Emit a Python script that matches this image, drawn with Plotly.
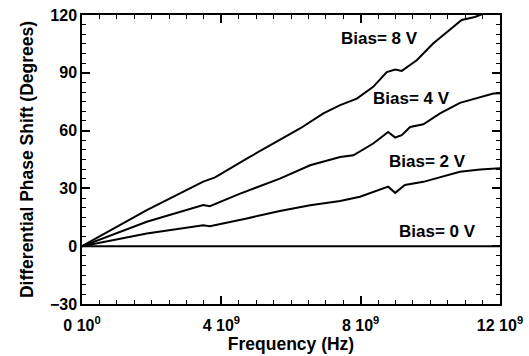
import plotly.graph_objects as go

# Frequencies in GHz, phase in degrees
freq_8 = [0, 1.86, 3.48, 3.82, 4.73, 5.68, 6.26, 6.93, 7.41, 7.89, 8.36, 8.75, 8.99, 9.18, 9.61, 10.08, 10.47, 10.90, 11.28, 11.57, 12.0]
phase_8 = [0, 18.7, 33.5, 35.7, 45.5, 55.0, 61.1, 68.9, 73.2, 76.6, 82.7, 90.4, 91.7, 91.0, 96.5, 105.2, 111.2, 117.4, 119.0, 121.0, 125.0]

freq_4 = [0, 1.86, 3.48, 3.67, 4.54, 5.68, 6.55, 7.41, 7.79, 8.36, 8.79, 8.99, 9.18, 9.42, 9.80, 10.28, 10.85, 11.43, 11.81, 12.0]
phase_4 = [0, 12.7, 21.4, 20.8, 27.3, 35.1, 42.0, 46.3, 47.2, 53.3, 59.3, 56.4, 57.6, 61.9, 63.3, 68.9, 74.4, 77.2, 79.2, 79.4]

freq_2 = [0, 1.86, 3.48, 3.67, 4.73, 5.68, 6.55, 7.41, 7.98, 8.79, 8.99, 9.27, 9.80, 10.47, 10.85, 11.43, 11.81, 12.0]
phase_2 = [0, 6.6, 10.9, 10.4, 14.4, 18.3, 21.3, 23.5, 25.7, 30.9, 27.7, 31.8, 33.4, 36.9, 38.6, 39.8, 40.3, 40.5]

freq_0 = [0, 12.0]
phase_0 = [0, 0]

series = [
    ("Bias= 8 V", freq_8, phase_8),
    ("Bias= 4 V", freq_4, phase_4),
    ("Bias= 2 V", freq_2, phase_2),
    ("Bias= 0 V", freq_0, phase_0),
]

# label positions (GHz, degrees)
label_x = [8.55, 9.45, 9.93, 10.21]
label_y = [107.7, 76.8, 44.1, 7.8]

x_tickvals = [0, 4000000000, 8000000000, 12000000000]
x_ticktext = ["0 10<sup>0</sup>", "4 10<sup>9</sup>", "8 10<sup>9</sup>", "12 10<sup>9</sup>"]

FONT = "Liberation Sans, Arial, Helvetica, sans-serif"

alias = {}
for v, t in zip(x_tickvals, x_ticktext):
    alias[str(v)] = t
    alias[f"{v:,}"] = t

fig = go.Figure()
for name, f, p in series:
    fig.add_trace(go.Scatter(
        x=[v * 1e9 for v in f], y=p, mode="lines", name=name,
        line=dict(color="black", width=2), showlegend=False,
    ))

for (name, _, _), lx, ly in zip(series, label_x, label_y):
    fig.add_annotation(
        x=lx * 1e9, y=ly, text=name, showarrow=False,
        font=dict(family=FONT, size=17, color="black", weight="bold"),
        xanchor="center", yanchor="middle",
    )

axis_common = dict(
    showgrid=False, zeroline=False, showline=True, linecolor="black",
    linewidth=1.5, mirror="allticks", ticks="inside", tickcolor="black",
    tickwidth=1.6, ticklen=8, automargin=False, ticklabeloverflow="allow",
    tickfont=dict(family=FONT, size=16, color="black", weight="bold"),
)

fig.update_xaxes(
    range=[0, 12e9], tickmode="linear", tick0=0, dtick=4e9,
    exponentformat="none",
    labelalias=alias,
    ticklabelstandoff=6,
    minor=dict(dtick=0.5e9, tick0=0, ticks="inside", ticklen=4,
               tickcolor="black", tickwidth=1.4, showgrid=False),
    title=dict(text="Frequency (Hz)", standoff=3,
               font=dict(family=FONT, size=17.5, color="black", weight="bold")),
    **axis_common,
)
fig.update_yaxes(
    range=[-30, 120], tickmode="linear", tick0=0, dtick=30,
    minor=dict(dtick=5, tick0=0, ticks="inside", ticklen=4,
               tickcolor="black", tickwidth=1.4, showgrid=False),
    title=dict(text="Differential Phase Shift (Degrees)", standoff=12,
               font=dict(family=FONT, size=17.5, color="black", weight="bold")),
    **axis_common,
)

fig.update_layout(
    width=529, height=356,
    margin=dict(l=82, r=29, t=15, b=52),
    paper_bgcolor="white", plot_bgcolor="white",
    font=dict(family=FONT, color="black"),
)

fig.write_html("out.html")
